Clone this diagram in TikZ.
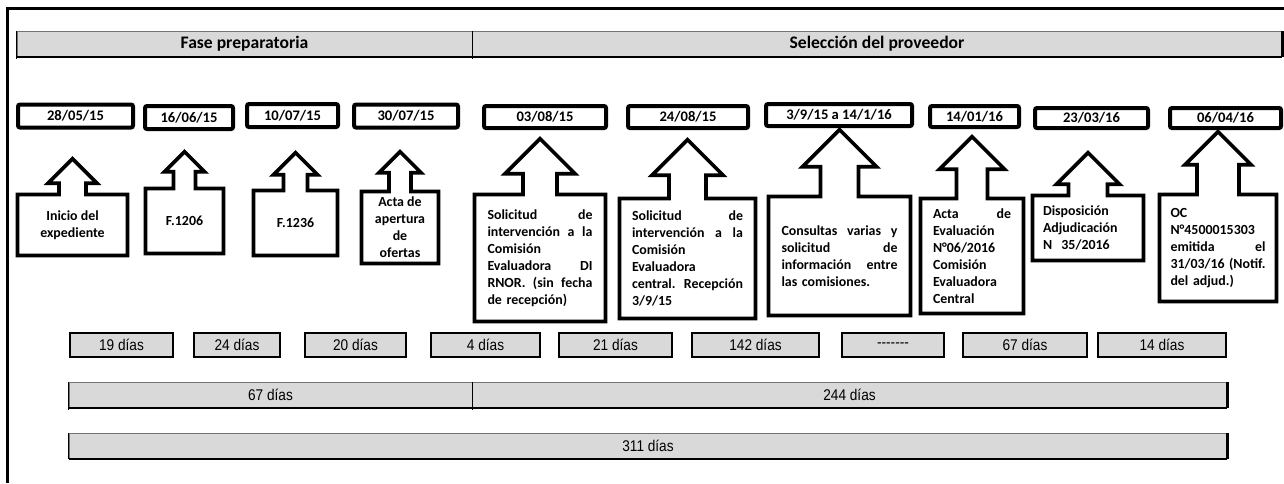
\documentclass[tikz,border=0pt]{standalone}
\usepackage{fontspec}
\setmainfont{Carlito}
\newfontfamily\arialfont[FakeStretch=0.88]{Liberation Sans}
\usepackage{tikz}
\usetikzlibrary{shapes.arrows}
\definecolor{cellgray}{HTML}{D9D9D9}
\newcommand\jl[2]{\leavevmode\hbox to #1{#2}}

\begin{document}
\begin{tikzpicture}[x=1pt,y=-1pt,
  headbox/.style={draw=black!55,line width=0.8pt,fill=cellgray,inner sep=0pt,minimum height=25pt,font=\bfseries\fontsize{17.6}{20}\selectfont},
  datebox/.style={draw,line width=4pt,rounded corners=2pt,fill=white,inner sep=0pt,minimum height=23pt,font=\bfseries\fontsize{14.6}{16}\selectfont},
  callout/.style={arrow box,draw,line width=3.6pt,inner sep=2pt,font=\bfseries\fontsize{13.9}{16.9}\selectfont},
  daybox/.style={draw,line width=1.8pt,fill=cellgray,inner sep=0pt,minimum height=24.5pt,font=\arialfont\fontsize{15.5}{17}\selectfont},
  barbox/.style={draw=black!55,line width=0.8pt,fill=cellgray,inner sep=0pt,minimum height=25pt,font=\arialfont\fontsize{15.5}{17}\selectfont}]
\useasboundingbox (0,0) rectangle (1284,483);
\draw[line width=3pt] (7,483) -- (7,8) -- (1284,8);

\node[headbox,minimum width=455pt] (fase) at (244.5,44) {Fase preparatoria};
\node[headbox,minimum width=810pt] (sel) at (877,44) {Selección del proveedor};
\draw[line width=2.5pt] (fase.south west) -- (sel.south east);
\draw[line width=3pt] (sel.north east) -- (sel.south east);
\draw[line width=1pt] (fase.north west) -- ([yshift=-2pt]fase.south west);
\draw[line width=1pt] (fase.north east) -- ([yshift=-2pt]fase.south east);

\node[datebox,minimum width=115pt] (d1) at (75.5,116) {28/05/15};
\node[datebox,minimum width=88pt] (d2) at (189,117.5) {16/06/15};
\node[datebox,minimum width=91pt] (d3) at (292.5,115.5) {10/07/15};
\node[datebox,minimum width=104pt] (d4) at (406,116) {30/07/15};
\node[datebox,minimum width=122pt,minimum height=22pt] (d5) at (545,117) {03/08/15};
\node[datebox,minimum width=120pt,minimum height=22pt] (d6) at (688,117) {24/08/15};
\node[datebox,minimum width=146pt,minimum height=22pt] (d7) at (839,115) {3/9/15 a 14/1/16\hspace{14pt}};
\node[datebox,minimum width=89pt,minimum height=21pt] (d8) at (974.5,116.5) {14/01/16};
\node[datebox,minimum width=113pt,minimum height=20pt] (d9) at (1091.5,118) {23/03/16};
\node[datebox,minimum width=111pt,minimum height=20pt] (d10) at (1225.5,118) {06/04/16};

\node[callout,minimum width=110pt,minimum height=61pt,align=center,
  arrow box arrows={north:34pt},arrow box shaft width=27pt,arrow box head extend=11pt] (c1) at (72.5,225)
  {Inicio del\\expediente};
\node[callout,minimum width=78pt,minimum height=65pt,
  arrow box arrows={north:35pt},arrow box shaft width=22pt,arrow box head extend=9pt] (c2) at (184.5,221) {F.1206};
\node[callout,minimum width=84pt,minimum height=65pt,
  arrow box arrows={north:36pt},arrow box shaft width=24pt,arrow box head extend=10pt] (c3) at (295.5,223) {F.1236};
\node[callout,minimum width=77pt,minimum height=72pt,align=center,
  arrow box arrows={north:38pt},arrow box shaft width=22pt,arrow box head extend=10pt] (c4) at (400,227.5)
  {Acta de\\apertura\\de\\ofertas};
\node[callout,minimum width=131pt,minimum height=127pt,text width=105pt,align=left,
  arrow box arrows={north:54pt},arrow box shaft width=34pt,arrow box head extend=18pt] (c5) at (540,258)
  {\jl{105pt}{Solicitud\hfill de}\\\jl{105pt}{intervención\hfill a\hfill la}\\Comisión\\
   \jl{105pt}{Evaluadora\hfill DI}\\\jl{105pt}{RNOR.\hfill (sin\hfill fecha}\\de recepción)\\[6pt]};
\node[callout,minimum width=136pt,minimum height=120pt,text width=111pt,align=left,
  arrow box arrows={north:57pt},arrow box shaft width=37pt,arrow box head extend=17pt] (c6) at (687.5,258.5)
  {\jl{111pt}{Solicitud\hfill de}\\\jl{111pt}{intervención\hfill a\hfill la}\\Comisión\\Evaluadora\\
   \jl{111pt}{central.\hfill Recepción}\\3/9/15};
\node[callout,minimum width=142pt,minimum height=119pt,text width=116pt,align=left,
  arrow box arrows={north:65pt},arrow box shaft width=38pt,arrow box head extend=18pt] (c7) at (839.5,256)
  {\jl{116pt}{Consultas\hfill varias\hfill y}\\\jl{116pt}{solicitud\hfill de}\\
   \jl{116pt}{información\hfill entre}\\las comisiones.};
\node[callout,minimum width=103pt,minimum height=115pt,text width=78pt,align=left,
  arrow box arrows={north:60pt},arrow box shaft width=31pt,arrow box head extend=17pt] (c8) at (972,256)
  {\jl{78pt}{Acta\hfill de}\\Evaluación\\N°06/2016\\Comisión\\Evaluadora\\Central};
\node[callout,minimum width=111pt,minimum height=65pt,text width=90pt,align=left,
  arrow box arrows={north:41pt},arrow box shaft width=39pt,arrow box head extend=12pt] (c9) at (1088,228)
  {Disposición\\Adjudicación\\N~~35/2016};
\node[callout,minimum width=117pt,minimum height=107pt,text width=95pt,align=left,
  arrow box arrows={north:61pt},arrow box shaft width=42pt,arrow box head extend=12pt] (c10) at (1218,248)
  {OC\\N°4500015303\\\jl{95pt}{emitida\hfill el}\\\jl{95pt}{31/03/16\hfill (Notif.}\\del adjud.)};

\node[daybox,minimum width=103pt] (t1) at (121.5,345) {19 días};
\node[daybox,minimum width=86pt] (t2) at (237,345) {24 días};
\node[daybox,minimum width=101pt] (t3) at (355.5,345) {20 días};
\node[daybox,minimum width=109pt] (t4) at (485.5,345) {4 días};
\node[daybox,minimum width=113pt] (t5) at (615.5,345) {21 días};
\node[daybox,minimum width=127pt] (t6) at (755.5,345) {142 días};
\node[daybox,minimum width=102pt] (t7) at (893,345) {-\kern0pt-\kern0pt-\kern0pt-\kern0pt-\kern0pt-\kern0pt-};
\node[daybox,minimum width=124pt] (t8) at (1025,345) {67 días};
\node[daybox,minimum width=128pt] (t9) at (1162,345) {14 días};

\node[barbox,minimum width=403pt] (b67) at (270.5,395) {67 días};
\node[barbox,minimum width=755pt] (b244) at (849.5,395) {244 días};
\node[barbox,minimum width=1158pt] (b311) at (648,446) {311 días};
\draw[line width=2.5pt] (b67.south west) -- (b244.south east);
\draw[line width=3pt] (b244.north east) -- (b244.south east);
\draw[line width=1.5pt] (b67.north west) -- ([yshift=-2pt]b67.south west);
\draw[line width=1.2pt] (b67.north east) -- ([yshift=-2pt]b67.south east);
\draw[line width=2.5pt] (b311.south west) -- (b311.south east);
\draw[line width=3pt] (b311.north east) -- (b311.south east);
\draw[line width=1.5pt] (b311.north west) -- (b311.south west);
\end{tikzpicture}
\end{document}
